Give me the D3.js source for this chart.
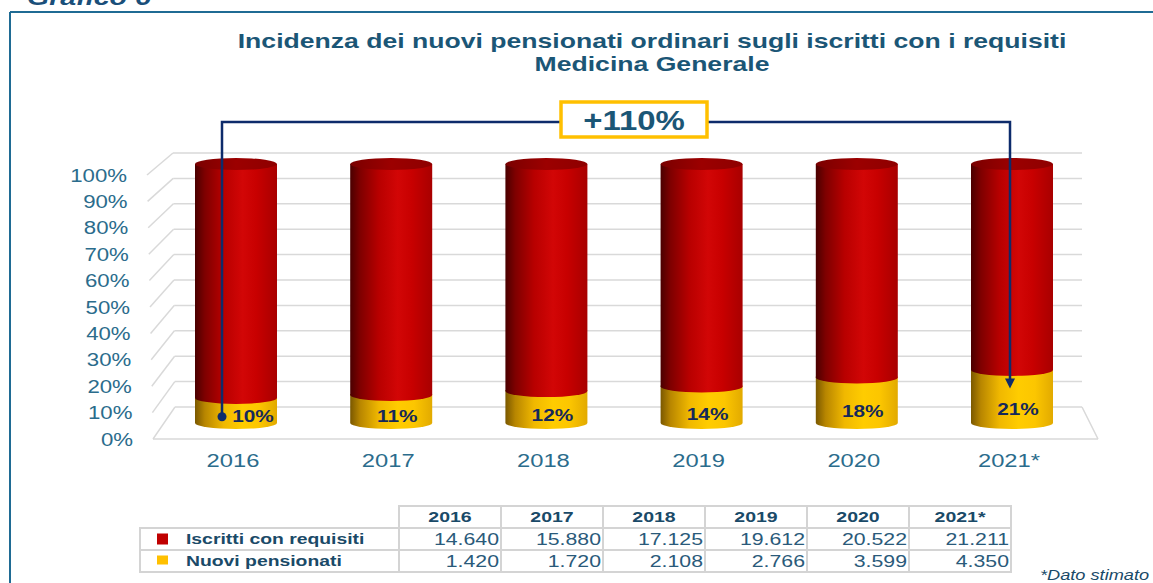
<!DOCTYPE html>
<html>
<head>
<meta charset="utf-8">
<script src="https://cdn.jsdelivr.net/npm/d3@7"></script>
<style>
  html, body { margin: 0; padding: 0; background: #fff; }
  svg { display: block; font-family: "Liberation Sans", Arial, sans-serif; }
</style>
</head>
<body>
<svg id="chart" width="1153" height="583"></svg>
<script>
// ---- data ----
const years = ["2016", "2017", "2018", "2019", "2020", "2021*"];
const iscritti = [14640, 15880, 17125, 19612, 20522, 21211];
const nuovi = [1420, 1720, 2108, 2766, 3599, 4350];
const yTicks = [0, 0.1, 0.2, 0.3, 0.4, 0.5, 0.6, 0.7, 0.8, 0.9, 1];
const seriesNames = ["Iscritti con requisiti", "Nuovi pensionati"];
const changeLabel = "+110%";
const titleLines = ["Incidenza dei nuovi pensionati ordinari sugli iscritti con i requisiti", "Medicina Generale"];
const noteText = "*Dato stimato";
const figureLabel = "Grafico 6";

const shares = nuovi.map((n, i) => n / iscritti[i]);

// ---- setup ----
const svg = d3.select("#chart");
const textBlue = "#1b5676";
const axisBlue = "#2b6c8c";
const navy = "#0d2b6b";
const gridCol = "#d9d9d9";

// the reference text is horizontally stretched: move x/y into a transform and scale x
function stretch(sel, s) {
  sel.each(function () {
    const t = d3.select(this);
    const tx = +t.attr("x"), ty = +t.attr("y");
    t.attr("x", 0).attr("y", 0).attr("transform", `translate(${tx},${ty}) scale(${s},1)`);
  });
}

const defs = svg.append("defs");
function hGrad(id, stops) {
  const g = defs.append("linearGradient").attr("id", id)
    .attr("x1", "0%").attr("x2", "100%").attr("y1", "0%").attr("y2", "0%");
  stops.forEach(([o, c]) => g.append("stop").attr("offset", o).attr("stop-color", c));
}
hGrad("redBody", [[0, "#4a0000"], [0.12, "#7e0000"], [0.35, "#b80000"], [0.58, "#d20606"], [0.75, "#c80000"], [1, "#a80000"]]);
hGrad("redTop", [[0, "#7a0000"], [0.5, "#9c0000"], [1, "#8e0000"]]);
hGrad("yelBody", [[0, "#7a5800"], [0.12, "#b88600"], [0.35, "#f0b800"], [0.58, "#ffcc00"], [0.78, "#fcc600"], [1, "#e2aa00"]]);

// frame
svg.append("line").attr("x1", 10).attr("x2", 1153).attr("y1", 12).attr("y2", 12)
  .attr("stroke", "#1f6b94").attr("stroke-width", 2);
svg.append("line").attr("x1", 10).attr("x2", 10).attr("y1", 12).attr("y2", 583)
  .attr("stroke", "#1f6b94").attr("stroke-width", 2);
svg.append("text").attr("x", 27).attr("y", 5).attr("font-size", 22)
  .attr("font-weight", "bold").attr("font-style", "italic").attr("fill", "#1a4f7a")
  .text(figureLabel).call(stretch, 1.3);

// title
svg.append("g").selectAll("text").data(titleLines).join("text")
  .attr("x", 652).attr("y", (d, i) => 48 + i * 23)
  .attr("text-anchor", "middle").attr("font-size", 20).attr("font-weight", "bold")
  .attr("fill", textBlue).text(d => d).call(stretch, 1.33);

// ---- scales (3D perspective approximated by front / back / mid planes) ----
const yFront = d3.scaleLinear().domain([0, 1]).range([439, 175]);
const yBack = d3.scaleLinear().domain([0, 1]).range([407, 153]);
const yMid = d3.scaleLinear().domain([0, 1]).range([423, 164]);
const xFront = d3.scaleLinear().domain([0, 1]).range([153, 147]);
const xBack = d3.scaleLinear().domain([0, 1]).range([175, 173]);
const backRight = 1082;
const x = d3.scalePoint().domain(years).range([236, 1012]);
const pct = d3.format(".0%");

// gridlines
const grid = svg.append("g");
grid.selectAll("line.diag").data(yTicks).join("line").attr("class", "diag")
  .attr("x1", d => xFront(d)).attr("y1", d => yFront(d))
  .attr("x2", d => xBack(d)).attr("y2", d => yBack(d))
  .attr("stroke", gridCol).attr("stroke-width", 1.5);
grid.selectAll("line.back").data(yTicks).join("line").attr("class", "back")
  .attr("x1", d => xBack(d)).attr("y1", d => yBack(d))
  .attr("x2", backRight).attr("y2", d => yBack(d))
  .attr("stroke", gridCol).attr("stroke-width", 1.5);
grid.append("line").attr("x1", xFront(0)).attr("y1", yFront(0))
  .attr("x2", 1098).attr("y2", yFront(0))
  .attr("stroke", gridCol).attr("stroke-width", 1.5);
grid.append("line").attr("x1", backRight).attr("y1", yBack(0))
  .attr("x2", 1098).attr("y2", yFront(0))
  .attr("stroke", gridCol).attr("stroke-width", 1.5);

// y axis labels
svg.append("g").selectAll("text").data(yTicks).join("text")
  .attr("x", d => xFront(d) - 20).attr("y", d => yFront(d))
  .attr("dy", "0.36em").attr("text-anchor", "end").attr("font-size", 18.5)
  .attr("fill", axisBlue).text(d => pct(d)).call(stretch, 1.2);

// x axis labels
svg.append("g").selectAll("text").data(years).join("text")
  .attr("x", d => x(d) - 3).attr("y", 461).attr("dy", "0.36em")
  .attr("text-anchor", "middle").attr("font-size", 18).attr("fill", axisBlue)
  .text(d => d).call(stretch, 1.32);

// ---- cylinders ----
const rx = 41, ry = 6;
function cylBody(cx, yTop, yBot) {
  return `M${cx - rx},${yTop} L${cx - rx},${yBot} A${rx},${ry} 0 0 0 ${cx + rx},${yBot} L${cx + rx},${yTop} Z`;
}
const bars = svg.append("g").selectAll("g").data(years).join("g");
bars.append("path")
  .attr("d", (d, i) => cylBody(x(d), yMid(shares[i]) - 1, yMid(0)))
  .attr("fill", "url(#yelBody)");
bars.append("path")
  .attr("d", (d, i) => cylBody(x(d), yMid(1), yMid(shares[i])))
  .attr("fill", "url(#redBody)");
bars.append("ellipse")
  .attr("cx", d => x(d)).attr("cy", yMid(1)).attr("rx", rx).attr("ry", ry)
  .attr("fill", "url(#redTop)");

// value labels
bars.append("text")
  .attr("x", (d, i) => x(d) + (i === 0 ? 17 : 6))
  .attr("y", (d, i) => yMid(shares[i] / 4))
  .attr("dy", "0.36em").attr("text-anchor", "middle")
  .attr("font-size", 16).attr("font-weight", "bold").attr("fill", "#15285a")
  .text((d, i) => pct(shares[i])).call(stretch, 1.3);

// ---- change annotation ----
const first = years[0], last = years[years.length - 1];
const xL = x(first) - 14, xR = x(last) - 2;
const yLine = 122;
const boxX0 = 561, boxX1 = 707;
const ann = svg.append("g").attr("stroke", navy).attr("stroke-width", 2.5).attr("fill", "none");
ann.append("path").attr("d", `M${xL},${yMid(shares[0] / 4)} V${yLine} H${boxX0}`);
ann.append("path").attr("d", `M${boxX1},${yLine} H${xR} V${yMid(shares[5] * 0.65) - 9}`);
svg.append("circle").attr("cx", xL).attr("cy", yMid(shares[0] / 4)).attr("r", 4.5).attr("fill", navy);
const tipY = yMid(shares[5] * 0.65);
svg.append("path")
  .attr("d", `M${xR - 5},${tipY - 10} L${xR + 5},${tipY - 10} L${xR},${tipY} Z`)
  .attr("fill", navy);
svg.append("rect").attr("x", boxX0).attr("y", 102).attr("width", boxX1 - boxX0).attr("height", 35)
  .attr("fill", "#fff").attr("stroke", "#ffc000").attr("stroke-width", 3.5);
svg.append("text").attr("x", (boxX0 + boxX1) / 2).attr("y", 120).attr("dy", "0.36em")
  .attr("text-anchor", "middle").attr("font-size", 27).attr("font-weight", "bold")
  .attr("fill", textBlue).text(changeLabel).call(stretch, 1.22);

// ---- data table ----
const itLocale = d3.formatLocale({ decimal: ",", thousands: ".", grouping: [3], currency: ["€", ""] });
const fmt = itLocale.format(",d");
const col = d3.scaleBand().domain(years).range([399, 1011]);
const rowY = [506, 528, 550, 572];
const labelX0 = 140;
const tbl = svg.append("g");
const tblStroke = "#d4d4d4";
// header cells
tbl.selectAll("rect.h").data(years).join("rect").attr("class", "h")
  .attr("x", d => col(d)).attr("y", rowY[0]).attr("width", col.bandwidth()).attr("height", rowY[1] - rowY[0])
  .attr("fill", "none").attr("stroke", tblStroke).attr("stroke-width", 2);
tbl.selectAll("text.h").data(years).join("text").attr("class", "h")
  .attr("x", d => col(d) + col.bandwidth() / 2).attr("y", (rowY[0] + rowY[1]) / 2).attr("dy", "0.36em")
  .attr("text-anchor", "middle").attr("font-size", 15).attr("font-weight", "bold").attr("fill", "#1a4a68")
  .text(d => d).call(stretch, 1.3);
const rows = [iscritti, nuovi];
const legendCols = ["#c00000", "#ffc000"];
rows.forEach((vals, r) => {
  const y0 = rowY[r + 1], y1 = rowY[r + 2];
  tbl.append("rect").attr("x", labelX0).attr("y", y0).attr("width", col(years[0]) - labelX0).attr("height", y1 - y0)
    .attr("fill", "none").attr("stroke", tblStroke).attr("stroke-width", 2);
  tbl.append("rect").attr("x", 157).attr("y", (y0 + y1) / 2 - 5.5).attr("width", 11).attr("height", r === 0 ? 11 : 9)
    .attr("fill", legendCols[r]);
  tbl.append("text").attr("x", 186).attr("y", (y0 + y1) / 2).attr("dy", "0.36em")
    .attr("font-size", 15).attr("font-weight", "bold").attr("fill", "#1a4a68").text(seriesNames[r])
    .call(stretch, 1.29);
  tbl.selectAll(null).data(years).join("rect")
    .attr("x", d => col(d)).attr("y", y0).attr("width", col.bandwidth()).attr("height", y1 - y0)
    .attr("fill", "none").attr("stroke", tblStroke).attr("stroke-width", 2);
  tbl.selectAll(null).data(years).join("text")
    .attr("x", d => col(d) + col.bandwidth() - 2).attr("y", (y0 + y1) / 2).attr("dy", "0.36em")
    .attr("text-anchor", "end").attr("font-size", 16).attr("fill", "#2a5a7a")
    .text((d, i) => fmt(vals[i])).call(stretch, 1.33);
});

svg.append("text").attr("x", 1040).attr("y", 580).attr("font-size", 14).attr("font-style", "italic")
  .attr("fill", "#1a4a68").text(noteText).call(stretch, 1.3);
</script>
</body>
</html>
